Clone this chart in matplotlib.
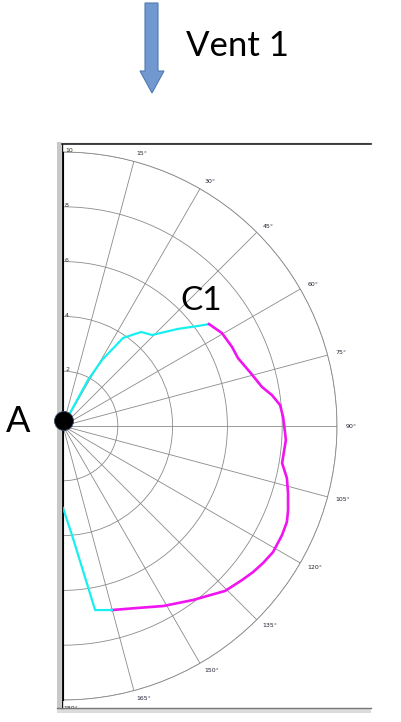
import matplotlib
matplotlib.use("Agg")
import matplotlib.pyplot as plt
import numpy as np
from matplotlib.patches import Polygon, Rectangle, Circle

# ---- data (angle in degrees from top, clockwise; radius 0..10)
cyan_a_deg = [30.0, 28.5, 30.6, 34.3, 39.7, 44.4, 49.8, 53.3, 55.1]
cyan_a_r = [0.0, 1.91, 2.80, 3.89, 4.46, 4.65, 5.49, 6.10, 6.50]

magenta_deg = [55.1, 59.7, 64.9, 68.8, 73.9, 78.9, 81.6, 84.5, 87.7, 91.8, 93.6,
               99.6, 103.1, 106.6, 110.5, 113.2, 116.5, 121.0, 124.4, 127.5,
               130.7, 135.5, 139.0, 143.2, 150.9, 157.9, 165.1]
magenta_r = [6.50, 6.72, 6.81, 6.85, 7.10, 7.40, 7.71, 7.96, 8.04, 8.11, 8.15,
             8.11, 8.39, 8.57, 8.77, 8.89, 8.93, 8.94, 8.85, 8.75,
             8.62, 8.44, 8.18, 7.93, 7.52, 7.17, 6.95]

cyan_b_deg = [165.1, 170.1, 175.3, 180.0]
cyan_b_r = [6.95, 6.82, 3.99, 2.99]

ring_values = [2, 4, 6, 8, 10]
angle_ticks = list(range(15, 181, 15))

W, H = 401, 722
fig = plt.figure(figsize=(W / 100, H / 100), dpi=100)
fig.patch.set_facecolor("white")

# polar half-disc: the wedge is centred in a square box of side 2R
R = 274
cx, cy = 63, 426
bx = cx + R / 2 - R
ax = fig.add_axes([bx / W, (H - cy - R) / H, 2 * R / W, 2 * R / H], projection="polar")
ax.set_facecolor("none")
ax.set_theta_zero_location("N")
ax.set_theta_direction(-1)
ax.set_thetamin(0)
ax.set_thetamax(180)
ax.set_rlim(0, 10)
ax.set_rticks(ring_values)
ax.set_yticklabels([])
ax.set_thetagrids(range(0, 181, 15), labels=[""] * 13)
ax.grid(True, color="#8a8a8a", lw=0.6)
ax.spines["polar"].set_color("#8a8a8a")
ax.spines["polar"].set_linewidth(0.6)
ax.spines["start"].set_visible(False)
ax.spines["end"].set_visible(False)
ax.tick_params(length=0, pad=0)

ax.plot(np.deg2rad(cyan_a_deg), cyan_a_r, color="#18f0f0", lw=1.6, zorder=3)
ax.plot(np.deg2rad(magenta_deg), magenta_r, color="#f014f0", lw=1.9, zorder=3)
ax.plot(np.deg2rad(cyan_b_deg), cyan_b_r, color="#18f0f0", lw=1.6, zorder=3)

for a in angle_ticks:
    ax.text(np.deg2rad(a), 10.3, f"{a}\u00b0", fontsize=4.5, color="#222233",
            ha="left", va="center", clip_on=False)
for r in ring_values:
    ax.annotate(str(r), xy=(0, r), xytext=(1.5, 1.0), textcoords="offset points",
                fontsize=4.5, color="#333322", ha="left", va="center",
                annotation_clip=False)

# overlay in pixel coordinates for frame, arrow, labels and point A (drawn on top)
ov = fig.add_axes([0, 0, 1, 1])
ov.set_zorder(5)
ov.patch.set_visible(False)
ov.set_xlim(0, W)
ov.set_ylim(H, 0)
ov.axis("off")

# frame of the embedded chart
ov.add_patch(Rectangle((57, 142), 4, 568, color="#c8c8c8", lw=0))
ov.plot([62, 62], [143.5, 708], color="#111111", lw=1.0)
ov.plot([57, 371], [142.5, 142.5], color="#c8c8c8", lw=1.0)
ov.plot([62, 371], [144.3, 144.3], color="#111111", lw=1.1)
ov.add_patch(Rectangle((57, 708.5), 314, 4.5, color="#dcdcdc", lw=0))
ov.plot([57, 371], [708, 708], color="#777777", lw=1.0)

# vent arrow
arrow = Polygon([(145, 3), (158, 3), (158, 71), (164, 71), (152, 93),
                 (140, 71), (145, 71)], closed=True,
                facecolor="#7299cf", edgecolor="#4f79b3", lw=0.8)
ov.add_patch(arrow)
ov.text(237, 46, "Vent 1", fontsize=25, family=["Lato", "DejaVu Sans"],
        ha="center", va="center", color="black")
ov.text(18, 421, "A", fontsize=26, family=["Lato", "DejaVu Sans"],
        ha="center", va="center", color="black")
ov.text(201, 301, "C1", fontsize=24, family=["Lato", "DejaVu Sans"],
        ha="center", va="center", color="black")

# center point A
ov.add_patch(Circle((64, 421), 9.5, facecolor="black", edgecolor="#3a4a6a",
                    lw=0.6, zorder=10))

fig.savefig("out.png", dpi=100)
